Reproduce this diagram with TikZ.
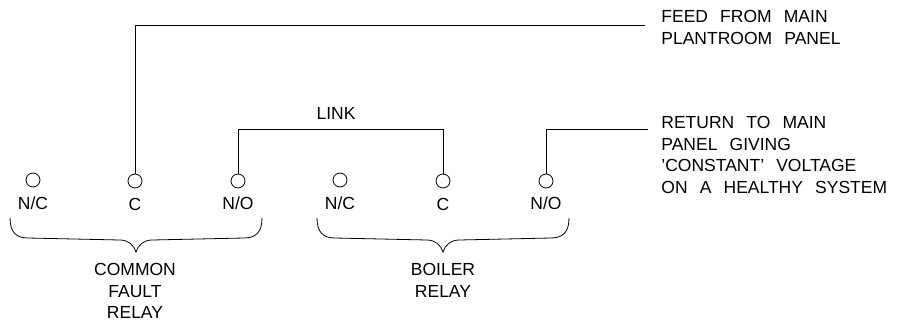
\documentclass[tikz,border=0pt]{standalone}
\usepackage{fontspec}
\setmainfont{Liberation Sans}[WordSpace=2.5]
\usepackage{tikz}

\tikzset{
  term/.style={draw, circle, minimum size=14pt, inner sep=0pt},
  cadtext/.style={font=\fontsize{17.5}{21.5}\selectfont, inner sep=0pt},
}

\begin{document}
\begin{tikzpicture}[x=1pt, y=-1pt, line width=0.8pt]
  \useasboundingbox (0,0) rectangle (901,324);

  % Common fault relay (left)
  \node[term] (cfnc) at (33,180) {};
  \node[term] (cfc) at (135,181) {};
  \node[term] (cfno) at (238,181) {};
  \node[cadtext] (cfnclbl) at (33,203) {N/C};
  \node[cadtext] (cfclbl) at (135,204) {C};
  \node[cadtext] (cfnolbl) at (238,203) {N/O};
  \node[cadtext, anchor=north, align=center] (cfname) at (135,263) {COMMON\\FAULT\\RELAY};

  % Boiler relay (right)
  \node[term] (blnc) at (340,180) {};
  \node[term] (blc) at (443,181) {};
  \node[term] (blno) at (546,181) {};
  \node[cadtext] (blnclbl) at (340,203) {N/C};
  \node[cadtext] (blclbl) at (443,204) {C};
  \node[cadtext] (blnolbl) at (546,203) {N/O};
  \node[cadtext, anchor=north, align=center] (blname) at (443,263) {BOILER\\RELAY};

  % Braces under each relay
  \foreach \cx in {136,443} {
    \draw (\cx-126,218) .. controls (\cx-126,232) and (\cx-120,238) .. (\cx-108,238)
      -- (\cx-16,240) .. controls (\cx-8,240) and (\cx-2,245) .. (\cx,252)
      .. controls (\cx+2,245) and (\cx+8,240) .. (\cx+16,240)
      -- (\cx+108,238) .. controls (\cx+120,238) and (\cx+126,232) .. (\cx+126,218);
  }

  % Feed from the panel
  \coordinate (feedbend) at (135,25);
  \coordinate (feedend) at (645,25);
  \draw (cfc) -- (feedbend) -- (feedend);
  \node[cadtext, anchor=north west, align=left] (feedlbl) at (661,10) {FEED FROM MAIN\\PLANTROOM PANEL};

  % Link between the relays
  \coordinate (linkl) at (238,129);
  \coordinate (linkr) at (443,129);
  \draw (cfno) -- (linkl) -- (linkr) -- (blc);
  \node[cadtext] (linklbl) at (336,113) {LINK};

  % Return to the panel
  \coordinate (retbend) at (546,129);
  \coordinate (retend) at (648,129);
  \draw (blno) -- (retbend) -- (retend);
  \node[cadtext, anchor=north west, align=left] (retlbl) at (661,116) {RETURN TO MAIN\\PANEL GIVING\\'CONSTANT' VOLTAGE\\ON A HEALTHY SYSTEM};
\end{tikzpicture}
\end{document}
